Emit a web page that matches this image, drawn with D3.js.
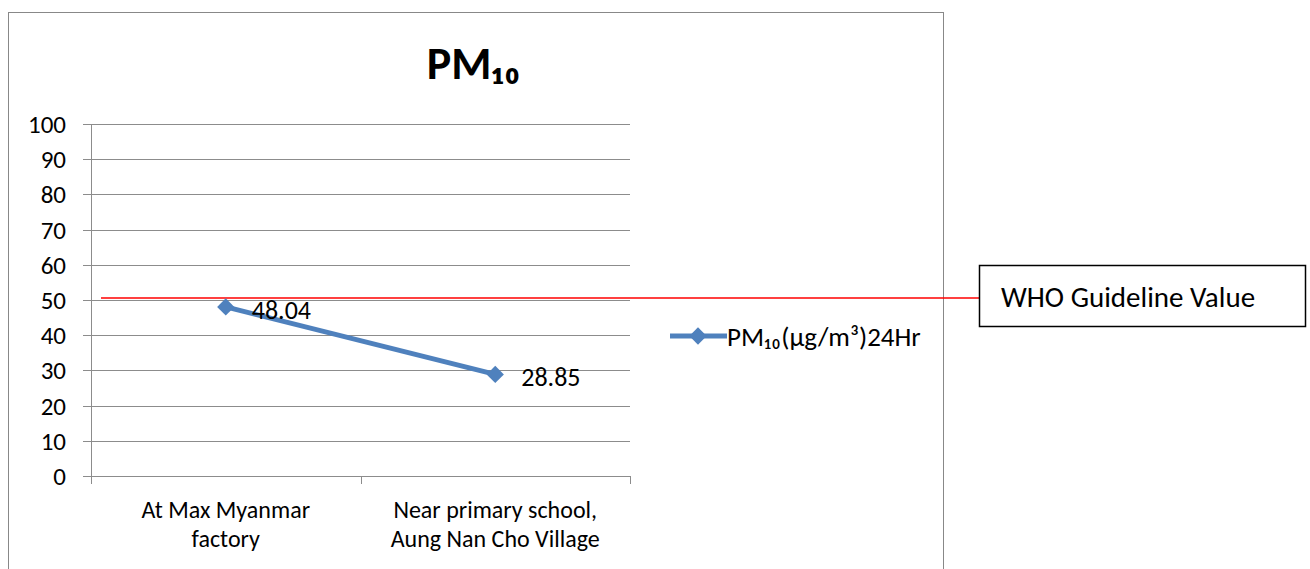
<!DOCTYPE html>
<html>
<head>
<meta charset="utf-8">
<script src="https://cdn.jsdelivr.net/npm/d3@7"></script>
<style>
body { margin: 0; background: #fff; }
svg text { font-family: Calibri, Carlito, Lato, "Open Sans", sans-serif; fill: #000; }
</style>
</head>
<body>
<div class="chart"></div>
<script>
let categories = [["At Max Myanmar", "factory"], ["Near primary school,", "Aung Nan Cho Village"]];
let pmValues = [48.04, 28.85];
let yTicks = [0, 10, 20, 30, 40, 50, 60, 70, 80, 90, 100];
let guideline = 50.6;
let seriesName = "PM₁₀(µg/m³)24Hr";
let guidelineLabel = "WHO Guideline Value";

let svgWidth = 1310;
let svgHeight = 569;
let margin = { top: 124, left: 91, right: 680, bottom: 93 };
let width = svgWidth - margin.left - margin.right;
let height = svgHeight - margin.top - margin.bottom;

let svg = d3.select(".chart")
    .append("svg")
    .attr("width", svgWidth)
    .attr("height", svgHeight);

// outer chart border
svg.append("rect")
    .attr("x", 8.5).attr("y", 12.5)
    .attr("width", 935).attr("height", 600)
    .attr("fill", "none")
    .attr("stroke", "#888")
    .attr("stroke-width", 1);

svg.append("text")
    .attr("x", 474).attr("y", 79)
    .attr("text-anchor", "middle")
    .style("font-size", "46px")
    .style("font-weight", "bold")
    .text("PM₁₀");

let chartgroup = svg.append("g")
    .attr("transform", `translate(${margin.left}, ${margin.top})`);

let xScale = d3.scaleBand()
    .domain(d3.range(categories.length))
    .range([0, width]);
let yScale = d3.scaleLinear()
    .domain([0, 100])
    .range([height, 0]);

// gridlines
chartgroup.append("g")
    .selectAll("line")
    .data(yTicks)
    .enter()
    .append("line")
    .attr("x1", -8).attr("x2", width)
    .attr("y1", d => Math.round(yScale(d)) + 0.5)
    .attr("y2", d => Math.round(yScale(d)) + 0.5)
    .attr("stroke", "#8c8c8c");

chartgroup.append("g")
    .selectAll("text")
    .data(yTicks)
    .enter()
    .append("text")
    .attr("x", -25)
    .attr("y", d => yScale(d))
    .attr("dy", "0.36em")
    .attr("text-anchor", "end")
    .style("font-size", "25px")
    .text(d => d);

// y axis line
chartgroup.append("line")
    .attr("x1", 0.5).attr("x2", 0.5)
    .attr("y1", 0).attr("y2", height + 8)
    .attr("stroke", "#8c8c8c");

// x ticks
let xTickPos = d3.range(categories.length + 1).map(i => i * xScale.bandwidth());
chartgroup.append("g")
    .selectAll("line")
    .data(xTickPos)
    .enter()
    .append("line")
    .attr("x1", d => Math.round(d) + 0.5)
    .attr("x2", d => Math.round(d) + 0.5)
    .attr("y1", height).attr("y2", height + 8)
    .attr("stroke", "#8c8c8c");

// category labels
let catLabels = chartgroup.append("g")
    .selectAll("text")
    .data(categories)
    .enter()
    .append("text")
    .attr("x", (d, i) => xScale(i) + xScale.bandwidth() / 2)
    .attr("y", height + 42)
    .attr("text-anchor", "middle")
    .style("font-size", "24px");
catLabels.append("tspan")
    .attr("x", (d, i) => xScale(i) + xScale.bandwidth() / 2)
    .text(d => d[0]);
catLabels.append("tspan")
    .attr("x", (d, i) => xScale(i) + xScale.bandwidth() / 2)
    .attr("dy", 29)
    .text(d => d[1]);

// WHO guideline line
chartgroup.append("line")
    .attr("x1", 10).attr("x2", 888)
    .attr("y1", yScale(guideline)).attr("y2", yScale(guideline))
    .attr("stroke", "#ff0000")
    .attr("stroke-width", 1.5);

// series line
let line = d3.line()
    .x((d, i) => xScale(i) + xScale.bandwidth() / 2)
    .y(d => yScale(d));
chartgroup.append("path")
    .datum(pmValues)
    .attr("d", line)
    .attr("fill", "none")
    .attr("stroke", "#4f81bd")
    .attr("stroke-width", 5);

let diamond = d3.symbol().type(d3.symbolDiamond2).size(190);
chartgroup.append("g")
    .selectAll("path")
    .data(pmValues)
    .enter()
    .append("path")
    .attr("d", diamond)
    .attr("transform", (d, i) => `translate(${xScale(i) + xScale.bandwidth() / 2}, ${yScale(d)})`)
    .attr("fill", "#4f81bd");

chartgroup.append("g")
    .selectAll("text")
    .data(pmValues)
    .enter()
    .append("text")
    .attr("x", (d, i) => xScale(i) + xScale.bandwidth() / 2 + 26)
    .attr("y", d => yScale(d) + 12)
    .style("font-size", "26px")
    .text(d => d.toFixed(2));

// legend
let legend = svg.append("g")
    .attr("transform", "translate(670, 336)");
legend.append("line")
    .attr("x1", 0).attr("x2", 57)
    .attr("stroke", "#4f81bd")
    .attr("stroke-width", 5);
legend.append("path")
    .attr("d", diamond)
    .attr("transform", "translate(28, 0)")
    .attr("fill", "#4f81bd");
legend.append("text")
    .attr("x", 57)
    .attr("y", 10)
    .style("font-size", "27px")
    .text(seriesName);

// WHO label box
svg.append("rect")
    .attr("x", 979.5).attr("y", 265.5)
    .attr("width", 326).attr("height", 61)
    .attr("fill", "#fff")
    .attr("stroke", "#000")
    .attr("stroke-width", 1.5);
svg.append("text")
    .attr("x", 1001).attr("y", 307)
    .style("font-size", "29px")
    .text(guidelineLabel);
</script>
</body>
</html>
